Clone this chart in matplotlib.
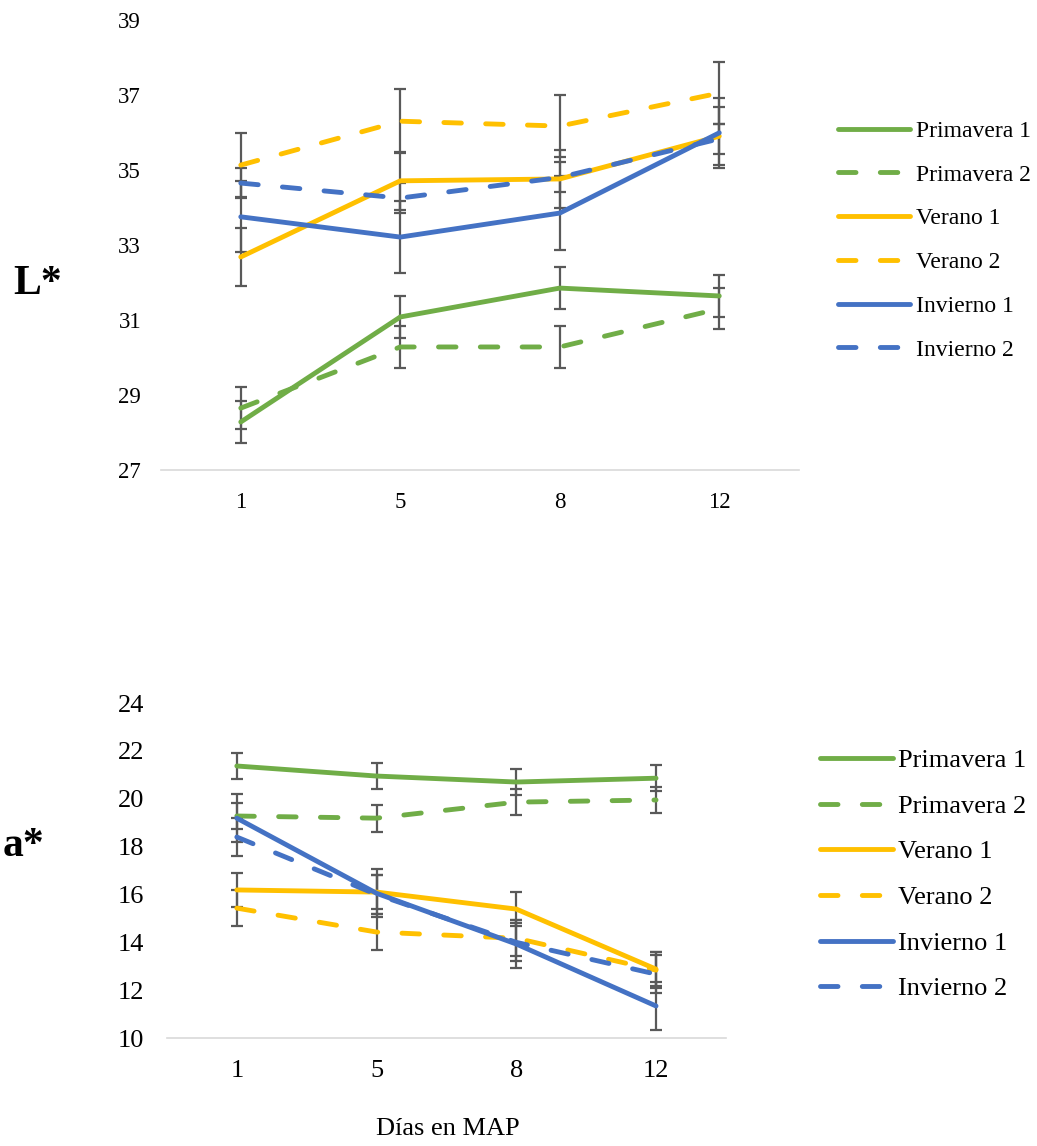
import numpy as np
import matplotlib
matplotlib.use("Agg")
import matplotlib.pyplot as plt

# dias en MAP (eje de categorias)
dias = ["1", "5", "8", "12"]
series = ["Primavera 1", "Primavera 2", "Verano 1", "Verano 2", "Invierno 1", "Invierno 2"]
colores = ["#70AD47", "#70AD47", "#FFC000", "#FFC000", "#4472C4", "#4472C4"]
estilos = ["solid", "dashed", "solid", "dashed", "solid", "dashed"]

# L*
L_prim1 = [28.28, 31.08, 31.85, 31.64]
L_prim2 = [28.65, 30.28, 30.28, 31.30]
L_ver1 = [32.68, 34.71, 34.76, 35.90]
L_ver2 = [35.13, 36.30, 36.17, 37.05]
L_inv1 = [33.75, 33.21, 33.85, 35.99]
L_inv2 = [34.65, 34.25, 34.80, 35.83]
L_err_prim1 = [0.55, 0.56, 0.55, 0.56]
L_err_prim2 = [0.55, 0.55, 0.55, 0.55]
L_err_ver1 = [0.77, 0.77, 0.78, 0.77]
L_err_ver2 = [0.85, 0.85, 0.83, 0.83]
L_err_inv1 = [0.95, 0.96, 0.98, 0.94]
L_err_inv2 = [0.40, 0.40, 0.40, 0.40]

# a*
a_prim1 = [21.37, 20.95, 20.70, 20.86]
a_prim2 = [19.28, 19.19, 19.86, 19.95]
a_ver1 = [16.19, 16.10, 15.39, 12.88]
a_ver2 = [15.43, 14.43, 14.17, 12.84]
a_inv1 = [19.19, 16.05, 13.93, 11.34]
a_inv2 = [18.40, 16.00, 14.00, 12.67]
a_err_prim1 = [0.54, 0.54, 0.54, 0.54]
a_err_prim2 = [0.56, 0.56, 0.54, 0.54]
a_err_ver1 = [0.71, 0.71, 0.70, 0.70]
a_err_ver2 = [0.75, 0.75, 0.75, 0.75]
a_err_inv1 = [1.00, 1.00, 1.00, 1.00]
a_err_inv2 = [0.80, 0.80, 0.80, 0.80]

L_vals = [L_prim1, L_prim2, L_ver1, L_ver2, L_inv1, L_inv2]
L_errs = [L_err_prim1, L_err_prim2, L_err_ver1, L_err_ver2, L_err_inv1, L_err_inv2]
a_vals = [a_prim1, a_prim2, a_ver1, a_ver2, a_inv1, a_inv2]
a_errs = [a_err_prim1, a_err_prim2, a_err_ver1, a_err_ver2, a_err_inv1, a_err_inv2]

plt.rcParams["font.family"] = ["Liberation Serif", "DejaVu Serif"]

fig = plt.figure(figsize=(10.37, 11.46), dpi=100)
ax1 = fig.add_axes([0.1553, 0.5899, 0.6152, 0.3927])
ax2 = fig.add_axes([0.161, 0.0942, 0.539, 0.2923])

lw = 3.5
x = np.arange(len(dias))


def dibujar(ax, valores, errores, ylim, yticks, fs_tick, padx, pady,
            fs_leg, leg_pos, handlelen, textpad, labspace):
    for i in range(len(series)):
        ax.errorbar(x, valores[i], yerr=errores[i], fmt="none", ecolor="#595959",
                    elinewidth=1.6, capsize=4, capthick=1.6, zorder=1)
        ln, = ax.plot(x, valores[i], color=colores[i], lw=lw, label=series[i],
                      solid_capstyle="round", dash_capstyle="round", zorder=2)
        if estilos[i] == "dashed":
            ln.set_dashes((3.6, 5.0))
    ax.set_xlim(-0.5, len(dias) - 0.5)
    ax.set_ylim(*ylim)
    ax.set_xticks(x)
    ax.set_xticklabels(dias)
    ax.set_yticks(yticks)
    ax.tick_params(length=0, labelsize=fs_tick)
    ax.tick_params(axis="x", pad=padx)
    ax.tick_params(axis="y", pad=pady)
    for s in ["top", "right", "left"]:
        ax.spines[s].set_visible(False)
    ax.spines["bottom"].set_color("#D9D9D9")
    ax.spines["bottom"].set_linewidth(1.2)
    ax.legend(loc="center left", bbox_to_anchor=leg_pos, frameon=False,
              fontsize=fs_leg, handlelength=handlelen, handletextpad=textpad,
              labelspacing=labspace, borderaxespad=0, borderpad=0)


dibujar(ax1, L_vals, L_errs, (27, 39), np.arange(27, 40, 2), 16.5, 15.5, 14.4,
        17, (1.061, 0.51), 3.05, 0.25, 0.94)
dibujar(ax2, a_vals, a_errs, (10, 24), np.arange(10, 25, 2), 19, 15.8, 16.5,
        19, (1.168, 0.488), 2.77, 0.19, 0.84)

fig.text(0.036, 0.752, "L*", fontsize=30, fontweight="bold", ha="center", va="center")
fig.text(0.023, 0.262, "a*", fontsize=30, fontweight="bold", ha="center", va="center")
fig.text(0.432, 0.0145, "Días en MAP", fontsize=19, ha="center", va="center")

fig.savefig("out.png", dpi=100)
